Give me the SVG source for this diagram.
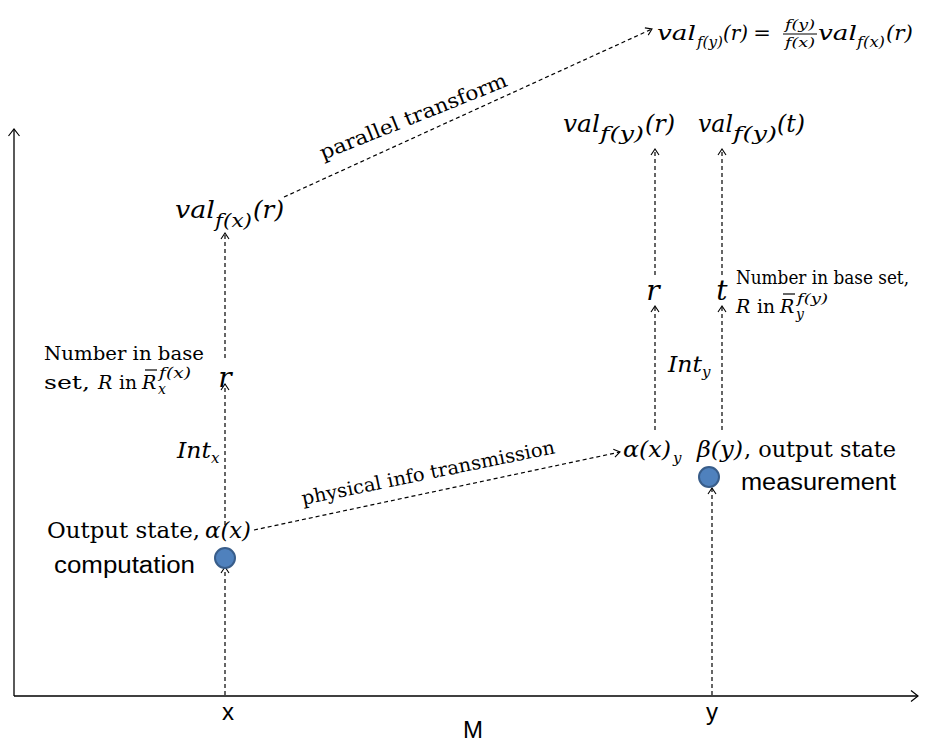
<svg xmlns="http://www.w3.org/2000/svg" width="939" height="742" viewBox="0 0 939 742">
<defs>
<marker id="ah" markerUnits="userSpaceOnUse" markerWidth="14" markerHeight="14" refX="7" refY="7" orient="auto" overflow="visible">
<path d="M1,3 L7,7 L1,11" fill="none" stroke="#000" stroke-width="1.1"/>
</marker>
<marker id="axh" markerUnits="userSpaceOnUse" markerWidth="16" markerHeight="16" refX="8" refY="8" orient="auto" overflow="visible">
<path d="M1,2.5 L8,8 L1,13.5" fill="none" stroke="#000" stroke-width="1.2"/>
</marker>
</defs>
<style>
.ax{stroke:#000;stroke-width:1.3;fill:none}
.d{stroke:#000;stroke-width:1.2;stroke-dasharray:4 3;fill:none}
.m{font-family:"DejaVu Serif","Liberation Serif",serif;font-style:italic;fill:#000}
.rm{font-family:"DejaVu Serif","Liberation Serif",serif;fill:#000}
.s{font-family:"Liberation Sans",Arial,sans-serif;fill:#000}
.n{font-family:"Liberation Sans Narrow","Liberation Sans",Arial,sans-serif;fill:#000}
.dot{fill:#4f81bd;stroke:#385d8a;stroke-width:2}
.bar{stroke:#000;stroke-width:1.2}
</style>
<rect width="939" height="742" fill="#fff"/>

<g id="axes">
<line class="ax" x1="14" y1="696" x2="14" y2="129" marker-end="url(#axh)"/>
<line class="ax" x1="14" y1="696" x2="918" y2="696" marker-end="url(#axh)"/>
<text class="n" x="228" y="720" font-size="24" text-anchor="middle">x</text>
<text class="n" x="712" y="720" font-size="24" text-anchor="middle">y</text>
<text class="n" x="473" y="738" font-size="24" text-anchor="middle">M</text>
</g>

<g id="connectors">
<line class="d" x1="225" y1="695" x2="225" y2="567" marker-end="url(#ah)"/>
<line class="d" x1="225" y1="525" x2="225" y2="384" marker-end="url(#ah)"/>
<line class="d" x1="225" y1="358" x2="225" y2="233" marker-end="url(#ah)"/>
<line class="d" x1="284" y1="197" x2="652" y2="29" marker-end="url(#ah)"/>
<line class="d" x1="254" y1="530" x2="620" y2="452" marker-end="url(#ah)"/>
<line class="d" x1="655" y1="430" x2="655" y2="306" marker-end="url(#ah)"/>
<line class="d" x1="655" y1="275" x2="655" y2="149" marker-end="url(#ah)"/>
<line class="d" x1="722" y1="430" x2="722" y2="306" marker-end="url(#ah)"/>
<line class="d" x1="722" y1="275" x2="722" y2="149" marker-end="url(#ah)"/>
<line class="d" x1="712" y1="695" x2="712" y2="488" marker-end="url(#ah)"/>
<text class="rm" font-size="20" transform="translate(323,160) rotate(-21.8)" textLength="200" lengthAdjust="spacingAndGlyphs">parallel transform</text>
<text class="rm" font-size="19" transform="translate(303,505) rotate(-11.6)" textLength="258" lengthAdjust="spacingAndGlyphs">physical info transmission</text>
</g>

<g id="node-computation">
<circle class="dot" cx="225" cy="558" r="10"/>
<text class="s" x="54" y="573" font-size="23" textLength="141" lengthAdjust="spacingAndGlyphs">computation</text>
<text class="rm" x="47" y="538" font-size="22" textLength="153" lengthAdjust="spacingAndGlyphs">Output state,</text>
<text class="m" x="205" y="538" font-size="23" textLength="46" lengthAdjust="spacingAndGlyphs">α(x)</text>
</g>

<g id="node-intx">
<text class="m" x="177" y="458" font-size="23" textLength="34" lengthAdjust="spacingAndGlyphs">Int</text>
<text class="m" x="211" y="463" font-size="15">x</text>
</g>

<g id="node-rx">
<text class="m" x="225" y="387" font-size="28" text-anchor="middle">r</text>
<text class="rm" x="44" y="360" font-size="19" textLength="160" lengthAdjust="spacingAndGlyphs">Number in base</text>
<text class="rm" x="44" y="389" font-size="19" textLength="46" lengthAdjust="spacingAndGlyphs">set,</text>
<text class="m" x="98" y="389" font-size="19">R</text>
<text class="rm" x="119" y="389" font-size="19" textLength="18" lengthAdjust="spacingAndGlyphs">in</text>
<text class="m" x="142" y="389" font-size="19">R</text>
<line class="bar" x1="145" y1="370" x2="157" y2="370"/>
<text class="m" x="159" y="378" font-size="14" textLength="32" lengthAdjust="spacingAndGlyphs">f(x)</text>
<text class="m" x="158" y="394" font-size="14">x</text>
</g>

<g id="node-valfx">
<text class="m" x="175" y="218" font-size="24" textLength="40" lengthAdjust="spacingAndGlyphs">val</text>
<text class="m" x="215" y="227" font-size="18" textLength="37" lengthAdjust="spacingAndGlyphs">f(x)</text>
<text class="m" x="253" y="218" font-size="24" textLength="31" lengthAdjust="spacingAndGlyphs">(r)</text>
</g>

<g id="node-formula">
<text class="m" x="657" y="40" font-size="21" textLength="39" lengthAdjust="spacingAndGlyphs">val</text>
<text class="m" x="697" y="47" font-size="14" textLength="26" lengthAdjust="spacingAndGlyphs">f(y)</text>
<text class="m" x="723" y="40" font-size="21" textLength="25" lengthAdjust="spacingAndGlyphs">(r)</text>
<text class="rm" x="762" y="40" font-size="21" text-anchor="middle">=</text>
<text class="m" x="800" y="29" font-size="13" text-anchor="middle" textLength="30" lengthAdjust="spacingAndGlyphs">f(y)</text>
<line x1="783" y1="34" x2="817" y2="34" stroke="#000" stroke-width="1"/>
<text class="m" x="800" y="47" font-size="13" text-anchor="middle" textLength="30" lengthAdjust="spacingAndGlyphs">f(x)</text>
<text class="m" x="818" y="40" font-size="21" textLength="39" lengthAdjust="spacingAndGlyphs">val</text>
<text class="m" x="857" y="47" font-size="14" textLength="28" lengthAdjust="spacingAndGlyphs">f(x)</text>
<text class="m" x="886" y="40" font-size="21" textLength="27" lengthAdjust="spacingAndGlyphs">(r)</text>
</g>

<g id="node-valfy-r">
<text class="m" x="563" y="132" font-size="24" textLength="37" lengthAdjust="spacingAndGlyphs">val</text>
<text class="m" x="600" y="140" font-size="18" textLength="44" lengthAdjust="spacingAndGlyphs">f(y)</text>
<text class="m" x="645" y="132" font-size="24" textLength="30" lengthAdjust="spacingAndGlyphs">(r)</text>
</g>

<g id="node-valfy-t">
<text class="m" x="698" y="132" font-size="24" textLength="35" lengthAdjust="spacingAndGlyphs">val</text>
<text class="m" x="733" y="140" font-size="18" textLength="44" lengthAdjust="spacingAndGlyphs">f(y)</text>
<text class="m" x="777" y="132" font-size="24" textLength="28" lengthAdjust="spacingAndGlyphs">(t)</text>
</g>

<g id="node-ry">
<text class="m" x="653" y="300" font-size="28" text-anchor="middle">r</text>
</g>

<g id="node-ty">
<text class="m" x="722" y="300" font-size="28" text-anchor="middle">t</text>
<text class="rm" x="736" y="284" font-size="19" textLength="173" lengthAdjust="spacingAndGlyphs">Number in base set,</text>
<text class="m" x="736" y="313" font-size="19">R</text>
<text class="rm" x="757" y="313" font-size="19" textLength="18" lengthAdjust="spacingAndGlyphs">in</text>
<text class="m" x="780" y="313" font-size="19">R</text>
<line class="bar" x1="783" y1="294" x2="795" y2="294"/>
<text class="m" x="797" y="303" font-size="13" textLength="31" lengthAdjust="spacingAndGlyphs">f(y)</text>
<text class="m" x="796" y="319" font-size="14">y</text>
</g>

<g id="node-inty">
<text class="m" x="668" y="372" font-size="23" textLength="34" lengthAdjust="spacingAndGlyphs">Int</text>
<text class="m" x="702" y="377" font-size="15">y</text>
</g>

<g id="node-alphay">
<text class="m" x="623" y="457" font-size="23" textLength="48" lengthAdjust="spacingAndGlyphs">α(x)</text>
<text class="m" x="673" y="463" font-size="15">y</text>
</g>

<g id="node-measurement">
<text class="m" x="697" y="457" font-size="23" textLength="46" lengthAdjust="spacingAndGlyphs">β(y)</text>
<text class="rm" x="744" y="457" font-size="22" textLength="152" lengthAdjust="spacingAndGlyphs">, output state</text>
<circle class="dot" cx="709" cy="477" r="10"/>
<text class="s" x="741" y="490" font-size="23" textLength="155" lengthAdjust="spacingAndGlyphs">measurement</text>
</g>
</svg>
